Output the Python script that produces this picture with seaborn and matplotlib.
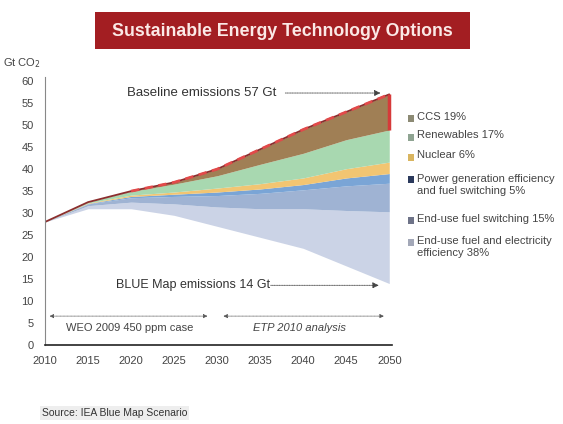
import matplotlib
matplotlib.use("Agg")
import matplotlib.pyplot as plt
import seaborn as sns
import numpy as np
from matplotlib.patches import Rectangle

sns.set_theme(style="white")
plt.rcParams['font.family'] = ['Liberation Sans', 'DejaVu Sans']

# ---------------- data ----------------
years = [2010, 2015, 2020, 2025, 2030, 2035, 2040, 2045, 2050]
baseline = [28, 32.5, 35, 37, 40, 44.5, 49, 53, 57]
blue_map = [28, 31, 31, 29.5, 27, 24.5, 22, 18, 14]
efficiency = [0, 0.7, 1.5, 2.6, 4.4, 6.5, 9.0, 12.6, 16.3]
fuel_switch = [0, 0.4, 1.0, 1.7, 2.6, 3.5, 4.3, 5.6, 6.5]
power_gen = [0, 0.1, 0.3, 0.5, 0.8, 1.0, 1.2, 1.8, 2.2]
nuclear = [0, 0.1, 0.3, 0.5, 0.9, 1.2, 1.5, 2.1, 2.6]
renewables = [0, 0.2, 0.8, 1.8, 2.8, 4.4, 5.6, 6.6, 7.3]
ccs = [0, 0, 0.1, 0.4, 1.5, 3.4, 5.4, 6.3, 8.1]

labels = ["End-use fuel and electricity\nefficiency 38%",
          "End-use fuel switching 15%",
          "Power generation efficiency\nand fuel switching 5%",
          "Nuclear 6%",
          "Renewables 17%",
          "CCS 19%"]
layers = [efficiency, fuel_switch, power_gen, nuclear, renewables, ccs]
area_colors = ["#cbd3e6", "#9fb3d3", "#7aa5d6", "#f2c572", "#a8d8b0", "#a07f55"]
legend_colors = ["#a3a8b8", "#6e7388", "#2b3a5c", "#d9b560", "#8fa492", "#8c8a74"]

xtick_vals = [2010, 2015, 2020, 2025, 2030, 2035, 2040, 2045, 2050]
ytick_vals = list(range(0, 61, 5))

# ---------------- figure ----------------
fig = plt.figure(figsize=(5.63, 4.24), dpi=100)
ax = fig.add_axes([0.080, 0.186, 0.616, 0.633])

x = np.array(years, dtype=float)
bottom = np.array(blue_map, dtype=float)
for vals, col in zip(layers, area_colors):
    top = bottom + np.array(vals, dtype=float)
    ax.fill_between(x, bottom, top, color=col, linewidth=0)
    bottom = top

# baseline line
sns.lineplot(x=years, y=baseline, ax=ax, color="#8b2e2e", linewidth=1.3)
ax.plot(years[2:], baseline[2:], color="#e24a4a", linewidth=2.0,
        linestyle=(0, (3, 2)))
# red edge at 2050 on CCS wedge
ax.vlines(years[-1], baseline[-1] - ccs[-1], baseline[-1], color="#d63a3a",
          linewidth=2.5)

# annotations
ax.text(2019.5, 57.3, "Baseline emissions 57 Gt", fontsize=9.5, color="#333333",
        va="center", ha="left")
ax.annotate("", xy=(2049.3, 57.3), xytext=(2037.6, 57.3),
            arrowprops=dict(arrowstyle="-|>", color="#444444", lw=0.6,
                            linestyle=(0, (1, 1)), mutation_scale=9))
ax.text(2018.2, 13.6, "BLUE Map emissions 14 Gt", fontsize=9, color="#333333",
        va="center", ha="left")
ax.annotate("", xy=(2049.1, 13.6), xytext=(2035.9, 13.6),
            arrowprops=dict(arrowstyle="-|>", color="#444444", lw=0.6,
                            linestyle=(0, (1, 1)), mutation_scale=9))
# analysis period arrows
ax.annotate("", xy=(2010.2, 6.6), xytext=(2029.2, 6.6),
            arrowprops=dict(arrowstyle="<|-|>", color="#555555", lw=0.5,
                            linestyle=(0, (1, 1)), mutation_scale=6))
ax.annotate("", xy=(2030.4, 6.6), xytext=(2049.7, 6.6),
            arrowprops=dict(arrowstyle="<|-|>", color="#555555", lw=0.5,
                            linestyle=(0, (1, 1)), mutation_scale=6))
ax.text(2019.8, 3.9, "WEO 2009 450 ppm case", fontsize=8, color="#444444",
        ha="center", va="center")
ax.text(2039.6, 3.9, "ETP 2010 analysis", fontsize=8, color="#444444",
        ha="center", va="center", style="italic")

# axes styling
ax.set_xlim(2010, 2050.3)
ax.set_ylim(0, 61)
ax.set_xticks(xtick_vals)
ax.set_xticklabels([str(v) for v in xtick_vals], fontsize=8, color="#444444")
ax.set_yticks(ytick_vals)
ax.set_yticklabels([str(v) for v in ytick_vals], fontsize=8, color="#444444")
ax.tick_params(axis="y", direction="out", length=6, width=0.8, color="#555555", pad=2)
ax.tick_params(axis="x", direction="inout", length=6, width=0.8, color="#333333", pad=5)
for s in ["top", "right"]:
    ax.spines[s].set_visible(False)
ax.spines["left"].set_color("#888888")
ax.spines["left"].set_linewidth(0.8)
ax.spines["bottom"].set_color("#222222")
ax.spines["bottom"].set_linewidth(1.2)
ax.grid(False)

fig.text(3 / 563, 1 - 63 / 424, "Gt CO$_2$", fontsize=8, color="#444444",
         ha="left", va="center")

# title box
fig.patches.append(Rectangle((95 / 563, 1 - 49 / 424), 375 / 563, 37 / 424,
                             transform=fig.transFigure, facecolor="#a31e22",
                             edgecolor="none"))
fig.text(282 / 563, 1 - 31 / 424, "Sustainable Energy Technology Options",
         fontsize=12.8, fontweight="bold", color="#fbe9e6", ha="center",
         va="center")

# legend (manual)
legend_y = [118, 137, 157, 180, 220, 242]
order = [5, 4, 3, 2, 1, 0]
for ypix, idx in zip(legend_y, order):
    fig.patches.append(Rectangle((408 / 563, 1 - (ypix + 3.5) / 424), 6 / 563, 7 / 424,
                                 transform=fig.transFigure,
                                 facecolor=legend_colors[idx], edgecolor="none"))
    fig.text(417 / 563, 1 - (ypix - 6.5) / 424, labels[idx], fontsize=8,
             color="#444444", ha="left", va="top", linespacing=1.3)

# source
fig.text(42 / 563, 1 - 413 / 424, "Source: IEA Blue Map Scenario", fontsize=7.5,
         color="#333333", ha="left", va="center",
         bbox=dict(facecolor="#eeeeee", edgecolor="none", pad=1.5))

fig.savefig("out.png", dpi=100)
